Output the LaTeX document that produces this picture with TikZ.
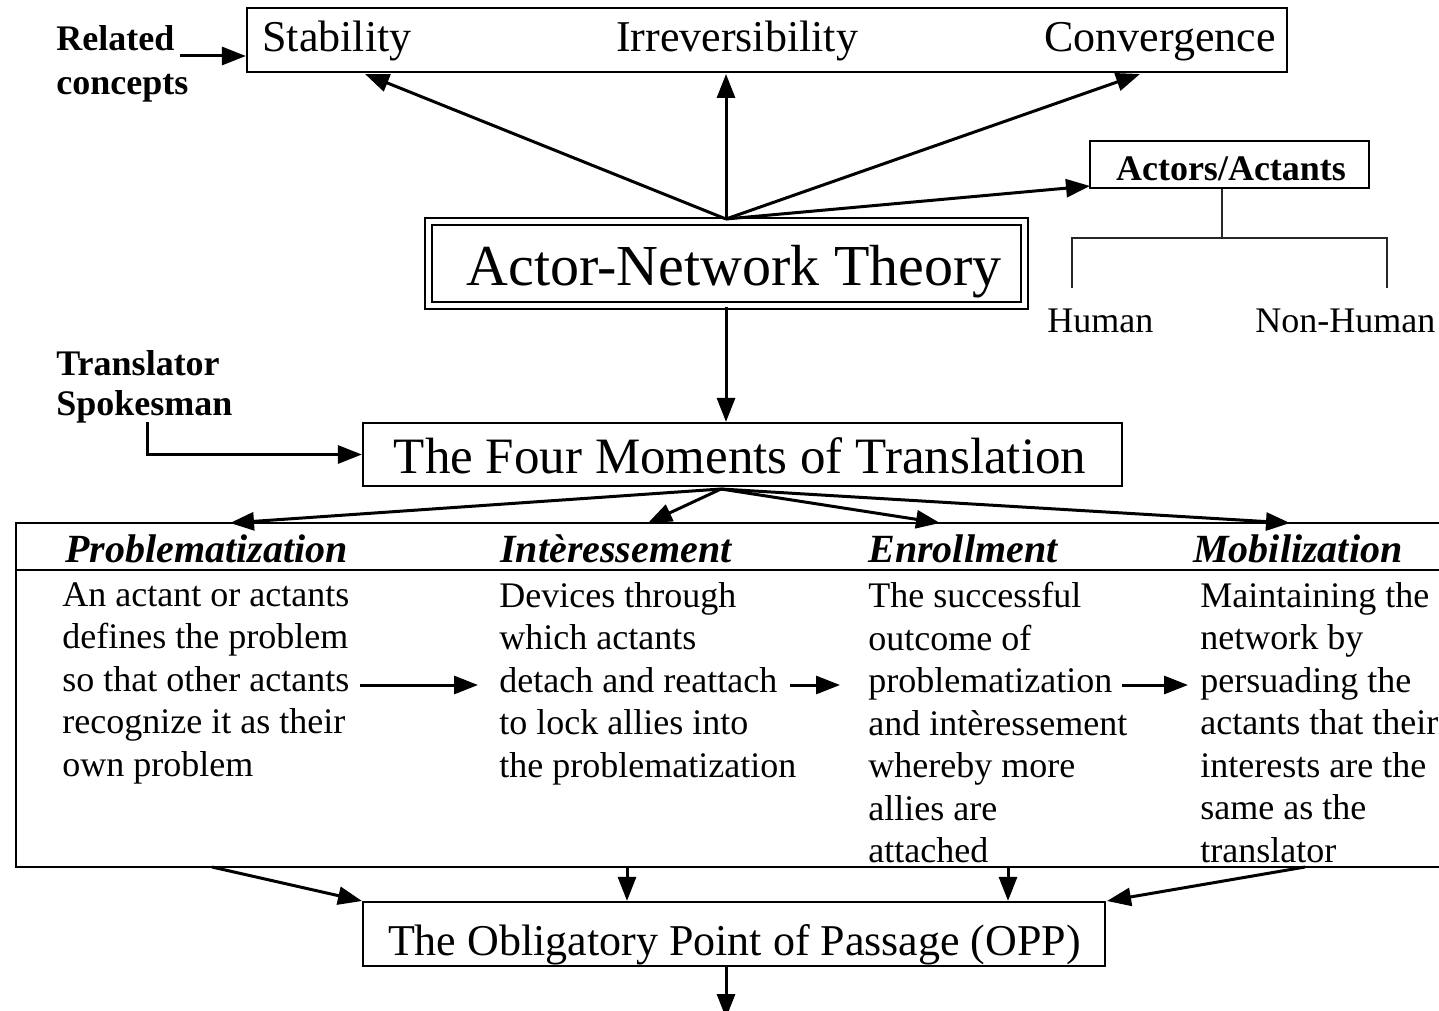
\documentclass[tikz,border=0pt]{standalone}
\usepackage{fontspec}
\setmainfont{Liberation Serif}
\usetikzlibrary{arrows.meta}
\tikzset{
  arr/.style={line width=1.5pt,-{Triangle[length=12pt,width=9pt]}},
  boxline/.style={draw,line width=1.1pt,inner sep=0pt},
  txt/.style={inner sep=0pt},
  bigt/.style={txt,font=\fontsize{22}{26}\selectfont},
  bodyt/.style={txt,align=left,anchor=north west,font=\fontsize{18}{21.25}\selectfont},
  headt/.style={txt,anchor=base west,font=\fontsize{20}{24}\selectfont\bfseries\itshape},
  boldt/.style={txt,anchor=base west,font=\fontsize{18}{21}\selectfont\bfseries},
  plaint/.style={txt,anchor=base west,font=\fontsize{18}{21}\selectfont},
}
\begin{document}
\begin{tikzpicture}[x=0.5pt,y=-0.5pt]
\clip (0,0) rectangle (1439,1011);
\fill[white] (0,0) rectangle (1439,1011);

% Related concepts box
\node[boxline,minimum width=520pt,minimum height=32pt] (rel) at (767,40) {};
\node[bigt,anchor=base west] (stab) at (262,52) {Stability};
\node[bigt,anchor=base] (irr) at (737,52) {Irreversibility};
\node[bigt,anchor=base east] (conv) at (1276,52) {Convergence};
\node[boldt] (relA) at (56,51) {Related};
\node[boldt] (relB) at (56,95) {concepts};
\coordinate (rcA) at (180,56);
\draw[arr] (rcA) -- (rcA -| rel.west);

% ANT
\node[draw,double,line width=1.1pt,double distance=2.4pt,inner sep=0pt,
      minimum width=298pt,minimum height=42pt] (ant) at (726.5,263.5) {};
\node[txt,anchor=base,font=\fontsize{29}{34}\selectfont] (antT) at (734,285) {Actor-Network Theory};
\coordinate (antTop) at (726,219);
\coordinate (tStab) at (365,74);
\coordinate (tIrr) at (726,74);
\coordinate (tConv) at (1140,74);
\draw[arr] (antTop) -- (tStab);
\draw[arr] (antTop) -- (tIrr);
\draw[arr] (antTop) -- (tConv);

% Actors/Actants
\node[boxline,minimum width=139.5pt,minimum height=23.5pt] (act) at (1229.5,164.5) {};
\node[boldt,anchor=base] (actT) at (1231,180) {Actors/Actants};
\coordinate (tAct) at (1090,186);
\draw[arr] (antTop) -- (tAct);
\coordinate (hMid) at (1222,238);
\coordinate (hL) at (1072,288);
\coordinate (hR) at (1387,288);
\draw[line width=0.9pt,black!85] (act.south -| hMid) -- (hMid);
\draw[line width=0.9pt,black!85] (hL) |- (hMid) -| (hR);
\node[plaint] (hum) at (1047,332) {Human};
\node[plaint] (nhum) at (1255,332) {Non-Human};

% Four moments
\node[boxline,minimum width=379.5pt,minimum height=31.5pt] (fm) at (742.5,454.5) {};
\node[txt,anchor=base,font=\fontsize{25.5}{30}\selectfont] (fmT) at (740,473) {The Four Moments of Translation};
\draw[arr] (ant.south -| antTop) -- (fm.north -| antTop);
\node[boldt] (trA) at (56,375) {Translator};
\node[boldt] (trB) at (56,415) {Spokesman};
\coordinate (spk) at (147,422);
\draw[arr] (spk) |- (fm.west);

% big table
\node[boxline,anchor=north west,minimum width=727.5pt,minimum height=172pt] (big) at (15,522) {};
\coordinate (sepL) at (15,570);
\draw[line width=1.1pt] (sepL) -- ++(1460,0);
\coordinate (fmB) at (721,489);
\coordinate (tP) at (230,523);
\coordinate (tI) at (648,523);
\coordinate (tE) at (940,523);
\coordinate (tM) at (1290,523);
\draw[arr] (fmB) -- (tP);
\draw[arr] (fmB) -- (tI);
\draw[arr] (fmB) -- (tE);
\draw[arr] (fmB) -- (tM);

\node[headt] (hP) at (65,562) {Problematization};
\node[headt] (hI) at (500,562) {Intèressement};
\node[headt] (hE) at (868,562) {Enrollment};
\node[headt] (hM) at (1193,562) {Mobilization};

\node[bodyt] (cP) at (62,582) {An actant or actants\\defines the problem\\so that other actants\\recognize it as their\\own problem};
\node[bodyt] (cI) at (499,582) {Devices through\\which actants\\detach and reattach\\to lock allies into\\the problematization};
\node[bodyt] (cE) at (868,582) {The successful\\outcome of\\problematization\\and intèressement\\whereby more\\allies are\\attached};
\node[bodyt] (cM) at (1200,582) {Maintaining the\\network by\\persuading the\\actants that their\\interests are the\\same as the\\translator};

\coordinate (a1s) at (360,685); \coordinate (a1e) at (478,685);
\coordinate (a2s) at (790,685); \coordinate (a2e) at (840,685);
\coordinate (a3s) at (1122,685); \coordinate (a3e) at (1188,685);
\draw[arr] (a1s) -- (a1e);
\draw[arr] (a2s) -- (a2e);
\draw[arr] (a3s) -- (a3e);

% OPP
\node[boxline,minimum width=371pt,minimum height=32pt] (opp) at (734,934) {};
\node[bigt,anchor=base] (oppT) at (734.5,955) {The Obligatory Point of Passage (OPP)};
\coordinate (b1) at (212,867); \coordinate (b1e) at (362,901);
\coordinate (b2) at (627,867);
\coordinate (b3) at (1008,867);
\coordinate (b4) at (1305,867); \coordinate (b4e) at (1107,901);
\draw[arr] (b1) -- (b1e);
\draw[arr] (b2) -- (b2 |- opp.north);
\draw[arr] (b3) -- (b3 |- opp.north);
\draw[arr] (b4) -- (b4e);
\coordinate (oppEnd) at (726,1018);
\draw[arr] (opp.south -| oppEnd) -- (oppEnd);
\end{tikzpicture}
\end{document}
